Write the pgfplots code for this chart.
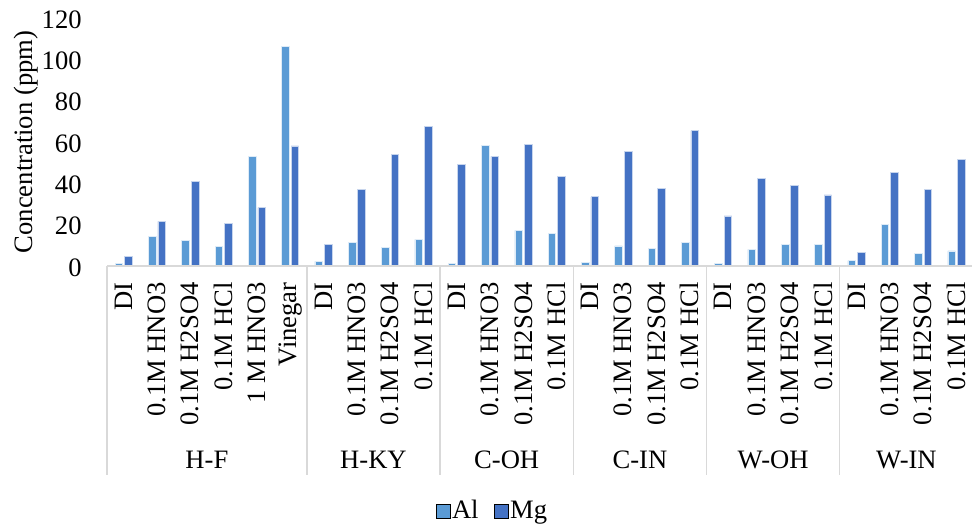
\documentclass[border=0pt]{standalone}
\usepackage{fontspec}
\setmainfont{Liberation Serif}
\usepackage{pgfplots}
\pgfplotsset{compat=1.18}
\usepackage{pgfplotstable}

\definecolor{alblue}{HTML}{5B9BD5}
\definecolor{mgblue}{HTML}{4472C4}
\definecolor{axisgray}{HTML}{D9D9D9}

% leaching results: index, Al, Mg (ppm)
\pgfplotstableread{
idx  Al     Mg
0    1.1    4.7
1    14.4   21.6
2    12.4   41.0
3    9.5    20.5
4    53.1   28.2
5    106.1  58.1
6    2.3    10.3
7    11.5   36.9
8    9.0    54.0
9    12.9   67.6
10   1.3    49.0
11   58.2   53.1
12   17.3   58.9
13   15.8   43.2
14   1.6    33.5
15   9.7    55.6
16   8.5    37.4
17   11.5   65.5
18   1.1    24.2
19   8.1    42.4
20   10.5   38.9
21   10.3   34.4
22   2.6    6.6
23   20.2   45.2
24   6.1    37.1
25   7.3    51.4
}\leachdata

\pgfplotsset{
  squarelegend/.style={
    legend image code/.code={\fill[##1] (0pt,-3.4pt) rectangle (6.8pt,3.4pt);}},
}

\begin{document}
\fontsize{13.3}{15}\selectfont
\begin{tikzpicture}
\begin{axis}[
  at={(0,0)}, anchor=south west,
  scale only axis,
  width=433pt, height=124pt,
  xmin=-0.5, xmax=25.5,
  ymin=0, ymax=120,
  ytick={0,20,...,120},
  xtick={0,...,25},
  xticklabels={DI,0.1M HNO3,0.1M H2SO4,0.1M HCl,1 M HNO3,Vinegar,
               DI,0.1M HNO3,0.1M H2SO4,0.1M HCl,
               DI,0.1M HNO3,0.1M H2SO4,0.1M HCl,
               DI,0.1M HNO3,0.1M H2SO4,0.1M HCl,
               DI,0.1M HNO3,0.1M H2SO4,0.1M HCl,
               DI,0.1M HNO3,0.1M H2SO4,0.1M HCl},
  xticklabel style={rotate=90, anchor=east, inner sep=0pt},
  xticklabel shift=8pt,
  yticklabel style={anchor=east, inner sep=0pt, yshift=-0.7pt},
  yticklabel shift=12.5pt,
  /pgf/number format/assume math mode=true,
  axis x line=bottom, axis y line=left,
  axis line style={draw=none},
  major tick length=0pt,
  tick style={draw=none},
  ylabel={Concentration (ppm)},
  ylabel style={at={(axis description cs:-0.0935,0.5)}, anchor=center, inner sep=0pt},
  clip=false,
  legend columns=2,
  legend style={draw=none, fill=none,
    at={(axis description cs:0.445,-0.99)}, anchor=center,
    nodes={inner xsep=0.8pt, inner ysep=0pt},
    /tikz/every even column/.append style={column sep=7pt}},
]
\addplot[ybar, bar width=3.8pt, bar shift=-2.375pt, forget plot,
  fill=alblue, draw=white!80!alblue, line width=0.3pt]
  table[x=idx, y=Al] {\leachdata};
\addplot[ybar, bar width=3.8pt, bar shift=2.375pt, forget plot,
  fill=mgblue, draw=white!70!mgblue, line width=0.3pt]
  table[x=idx, y=Mg] {\leachdata};

\addlegendimage{squarelegend, fill=alblue}
\addlegendentry{Al}
\addlegendimage{squarelegend, fill=mgblue}
\addlegendentry{Mg}

% category axis with group separators
\draw[axisgray, line width=0.7pt] (axis cs:-0.5,0) -- (axis cs:25.5,0);
\pgfplotsinvokeforeach{-0.5,5.5,9.5,13.5,17.5,21.5,25.5}{
  \draw[axisgray, line width=0.7pt] (axis cs:#1,0) -- ([yshift=-104.5pt]axis cs:#1,0);
}
\node[anchor=base, inner sep=0pt] at ([yshift=-101pt]axis cs:2.5,0) {H-F};
\node[anchor=base, inner sep=0pt] at ([yshift=-101pt]axis cs:7.5,0) {H-KY};
\node[anchor=base, inner sep=0pt] at ([yshift=-101pt]axis cs:11.5,0) {C-OH};
\node[anchor=base, inner sep=0pt] at ([yshift=-101pt]axis cs:15.5,0) {C-IN};
\node[anchor=base, inner sep=0pt] at ([yshift=-101pt]axis cs:19.5,0) {W-OH};
\node[anchor=base, inner sep=0pt] at ([yshift=-101pt]axis cs:23.5,0) {W-IN};
\end{axis}
\pgfresetboundingbox
\path[use as bounding box] (-53.5pt,-132.5pt) rectangle (432.5pt,133pt);
\end{tikzpicture}
\end{document}
